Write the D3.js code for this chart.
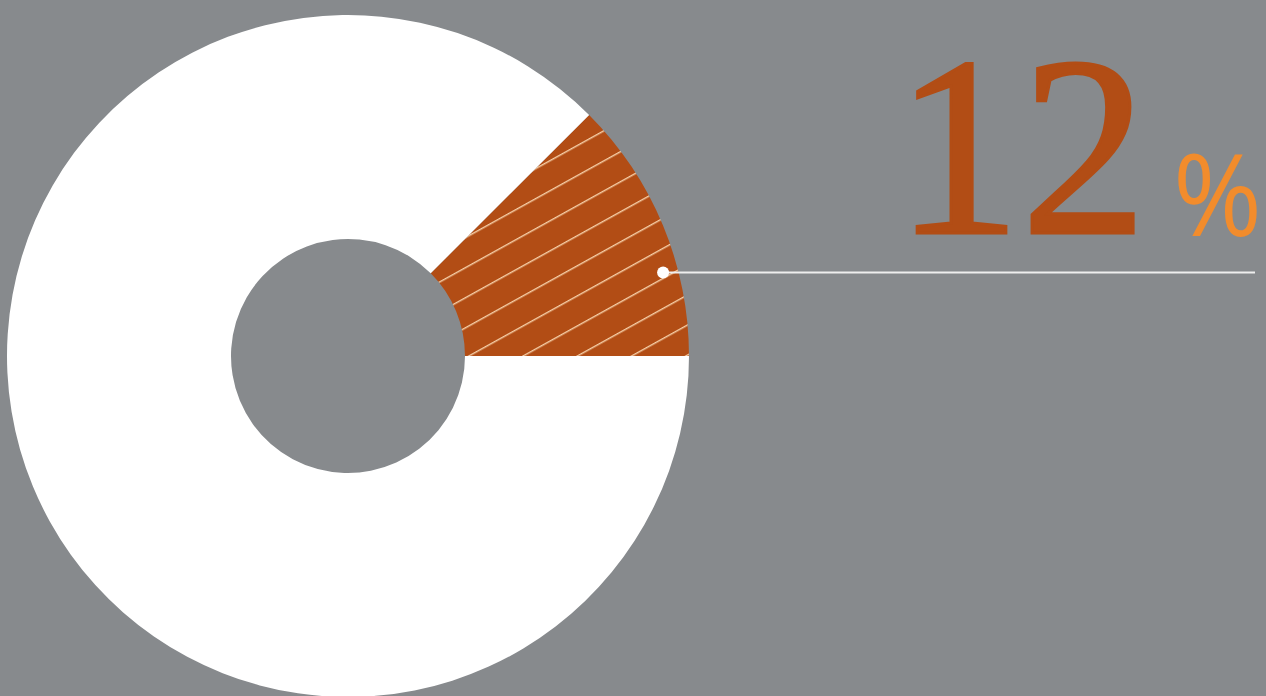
<!DOCTYPE html>
<html>
<head>
<meta charset="utf-8">
<script src="https://cdn.jsdelivr.net/npm/d3@7"></script>
<style>
  html, body { margin: 0; padding: 0; background: #878a8d; overflow: hidden; }
  svg { display: block; }
</style>
</head>
<body>
<div id="chart"></div>
<script>
// data
const categories = ["share", "rest"];
const values = [12.5, 87.5];
const labelNumber = "12";
const labelUnit = "%";

const width = 1266, height = 696;
const cx = 348, cy = 356;
const outerR = 341, innerR = 117;

const svg = d3.select("#chart")
  .append("svg")
  .attr("width", width)
  .attr("height", height);

svg.append("rect")
  .attr("width", width)
  .attr("height", height)
  .attr("fill", "#878a8d");

// hatch pattern for the highlighted slice
const defs = svg.append("defs");
const pat = defs.append("pattern")
  .attr("id", "hatch")
  .attr("patternUnits", "userSpaceOnUse")
  .attr("width", 20)
  .attr("height", 26.3)
  .attr("patternTransform", "translate(667,358) rotate(-29)");
pat.append("rect")
  .attr("width", 20).attr("height", 26.3)
  .attr("fill", "#b24d15");
pat.append("line")
  .attr("x1", 0).attr("x2", 20)
  .attr("y1", 0.7).attr("y2", 0.7)
  .attr("stroke", "#f6cfa8")
  .attr("stroke-width", 1.4);

// slice starts at 3 o'clock and runs counter-clockwise
const pie = d3.pie()
  .sort(null)
  .startAngle(Math.PI / 2)
  .endAngle(Math.PI / 2 - 2 * Math.PI);

const arc = d3.arc()
  .innerRadius(innerR)
  .outerRadius(outerR);

const g = svg.append("g")
  .attr("transform", "translate(" + cx + "," + cy + ")");

const arcs = pie(values);

g.selectAll("path")
  .data(arcs)
  .enter()
  .append("path")
  .attr("d", arc)
  .attr("fill", (d, i) => i === 0 ? "url(#hatch)" : "#ffffff");

// leader line from inside the slice
const a0 = arcs[0];
const dotAngle = a0.startAngle + (a0.endAngle - a0.startAngle) * 0.33;
const dotR = 326;
const dx = cx + dotR * Math.sin(dotAngle);
const dy = cy - dotR * Math.cos(dotAngle);

svg.append("line")
  .attr("x1", dx).attr("y1", dy)
  .attr("x2", 1255).attr("y2", dy)
  .attr("stroke", "#eeeeee")
  .attr("stroke-width", 2);

svg.append("circle")
  .attr("cx", dx).attr("cy", dy)
  .attr("r", 6)
  .attr("fill", "#ffffff");

// big label
svg.append("text")
  .attr("x", 895)
  .attr("y", 233)
  .attr("font-family", "'Liberation Serif', 'DejaVu Serif', serif")
  .attr("font-size", 256)
  .attr("fill", "#b24d15")
  .attr("stroke", "#b24d15")
  .attr("stroke-width", 3)
  .attr("textLength", 252)
  .attr("lengthAdjust", "spacingAndGlyphs")
  .text(labelNumber);

svg.append("text")
  .attr("x", 1173)
  .attr("y", 236)
  .attr("font-family", "'Open Sans', Lato, sans-serif")
  .attr("font-size", 114)
  .attr("fill", "#f28c2c")
  .attr("textLength", 89)
  .attr("lengthAdjust", "spacingAndGlyphs")
  .text(labelUnit);
</script>
</body>
</html>
